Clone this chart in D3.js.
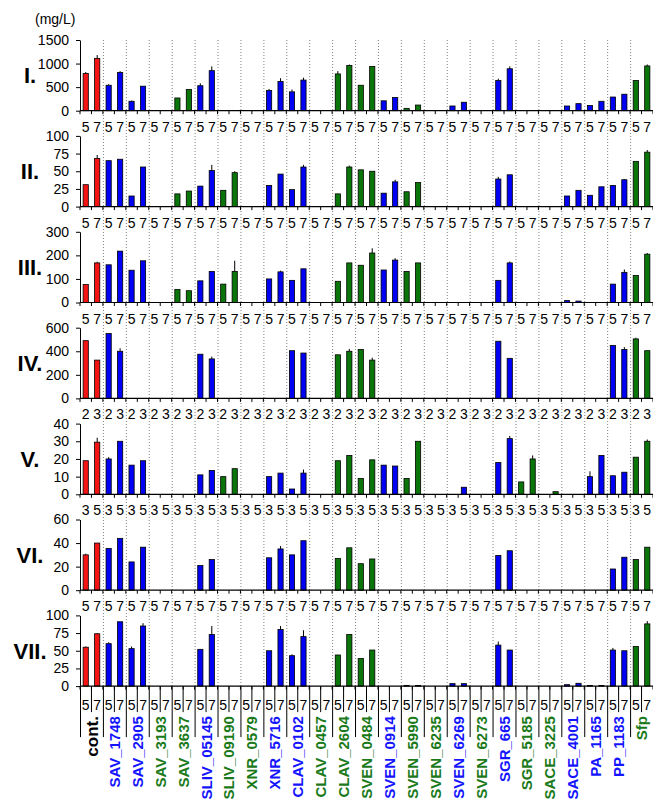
<!DOCTYPE html>
<html>
<head>
<meta charset="utf-8">
<script src="https://cdn.jsdelivr.net/npm/d3@7"></script>
<style>
  body { margin: 0; background: #fff; }
  svg { font-family: "Liberation Sans", Arial, sans-serif; }
</style>
</head>
<body>
<svg width="653" height="800"></svg>
<script>
const categories = ["cont.", "SAV_1748", "SAV_2905", "SAV_3193", "SAV_3637", "SLIV_05145", "SLIV_09190",
    "XNR_0579", "XNR_5716", "CLAV_0102", "CLAV_0457", "CLAV_2604", "SVEN_0484", "SVEN_0914",
    "SVEN_5990", "SVEN_6235", "SVEN_6269", "SVEN_6273", "SGR_665", "SGR_5185", "SACE_3225",
    "SACE_4001", "PA_1165", "PP_1183", "Sfp"]
// c = control, b = blue group, g = green group
const groups = ["c", "b", "b", "g", "g", "b", "g", "g", "b", "b", "g", "g", "g", "b",
    "g", "g", "b", "g", "b", "g", "g", "b", "b", "b", "g"]

const panelNames = ["I.", "II.", "III.", "IV.", "V.", "VI.", "VII."]
const panelTicks = [
    [0, 500, 1000, 1500],
    [0, 25, 50, 75, 100],
    [0, 100, 200, 300],
    [0, 200, 400, 600],
    [0, 10, 20, 30, 40],
    [0, 20, 40, 60],
    [0, 25, 50, 75, 100]
]
const panelDays = [[5, 7], [5, 7], [5, 7], [2, 3], [3, 5], [5, 7], [5, 7]]

const valuesI = [[790, 1110], [540, 810], [200, 520], null, [270, 450], [530, 850], null,
    null, [430, 620], [400, 650], null, [780, 960], [540, 940], [210, 280],
    [50, 120], null, [100, 180], null, [640, 890], null, null,
    [100, 150], [110, 200], [290, 350], [640, 950]]
const errorsI = [[30, 70], [20, 30], [15, 0], null, null, [50, 90], null,
    null, [30, 70], [50, 50], null, [60, 20], [0, 0], null,
    null, null, null, null, [40, 50], null, null,
    null, null, null, [0, 30]]

const valuesII = [[31, 68], [65, 67], [15, 56], null, [18, 22], [29, 51], [23, 48],
    null, [30, 46], [24, 56], null, [18, 56], [52, 50], [19, 35],
    [21, 34], null, null, null, [39, 45], null, null,
    [15, 23], [16, 28], [30, 38], [64, 77]]
const errorsII = [[0, 5], null, null, null, null, [0, 8], [0, 2],
    null, null, [0, 3], null, [0, 2], null, [0, 3],
    null, null, null, null, [3, 0], null, null,
    null, null, [0, 1], [0, 3]]

const valuesIII = [[76, 168], [160, 218], [137, 177], null, [55, 50], [92, 132], [78, 132],
    null, [100, 130], [94, 143], null, [90, 168], [158, 210], [138, 180],
    [132, 168], null, null, null, [94, 168], null, null,
    [8, 6], null, [78, 128], [115, 205]]
const errorsIII = [[0, 5], null, null, null, null, null, [0, 45],
    null, [0, 5], null, null, null, [0, 20], [0, 8],
    null, null, null, null, [0, 6], null, null,
    null, null, [0, 12], [0, 5]]

const valuesIV = [[490, 325], [550, 400], null, null, null, [375, 335], null,
    null, null, [405, 385], null, [370, 400], [415, 325], null,
    null, null, null, null, [485, 340], null, null,
    null, null, [450, 415], [505, 405]]
const errorsIV = [null, [0, 25], null, null, null, [0, 20], null,
    null, null, null, null, [0, 20], [0, 20], null,
    null, null, null, null, null, null, null,
    null, null, [0, 20], [10, 0]]

const valuesV = [[19, 29.5], [20, 30], [16.5, 19], null, null, [11, 13.5], [10, 14.5],
    null, [10, 12], [3, 12], null, [19, 22], [9, 19.5], [16.5, 16],
    [9, 30], null, [null, 4], null, [18, 31.5], [7, 20], [null, 1.5],
    null, [10, 22], [10.5, 12.5], [21, 30]]
const errorsV = [[0, 2.5], [1, 0], null, null, null, null, null,
    null, null, [0, 2], null, null, null, null,
    null, null, null, null, [0, 1.5], [0, 2], null,
    null, [3, 0], null, [0, 1]]

const valuesVI = [[30, 40], [35.5, 44], [24, 36.5], null, null, [21, 26], null,
    null, [27.5, 35], [30, 42], null, [27, 36], [22.5, 26.5], null,
    null, null, null, null, [29.5, 33.5], null, null,
    null, null, [18, 28], [26, 36.5]]
const errorsVI = [[1, 0], null, null, null, null, null, null,
    null, [0, 2.5], null, null, null, null, null,
    null, null, null, null, null, null, null,
    null, null, null, null]

const valuesVII = [[55, 74], [60, 91], [53, 85], null, null, [52, 73], null,
    null, [50, 80], [43, 70], null, [44, 73], [39, 51], null,
    [1, 1], null, [3.5, 3.5], null, [58, 51], null, null,
    [2, 4], [0.8, 0.8], [51, 50], [56, 88]]
const errorsVII = [[1, 1], [2, 0], [3, 4], null, null, [0, 12], null,
    null, [0, 5], [2, 9], null, null, null, null,
    null, null, null, null, [5, 0], null, null,
    null, null, [3, 0], [0, 4]]

const panelValues = [valuesI, valuesII, valuesIII, valuesIV, valuesV, valuesVI, valuesVII]
const panelErrors = [errorsI, errorsII, errorsIII, errorsIV, errorsV, errorsVI, errorsVII]

const barFill = { c: "#f41414", b: "#0000f4", g: "#0a760a" }
const textFill = { c: "#000", b: "#1414ff", g: "#1a7a1a" }

const svg = d3.select("svg")
const left = 80, right = 653
const panelTop = 40, panelStep = 95.9, panelH = 70.7

const x = d3.scaleBand().domain(categories).range([left, right])
const slot = d3.scaleBand().domain([0, 1]).range([0, x.bandwidth()])
const barW = 5.2
const slotCenter = (i, j) => x(categories[i]) + slot(j) + slot.bandwidth() / 2

const lastZero = panelTop + 6 * panelStep + panelH

// dotted separators through all panels
svg.append("g")
    .selectAll("line")
    .data(categories.slice(1))
    .enter().append("line")
    .attr("x1", d => x(d) + 0.5).attr("x2", d => x(d) + 0.5)
    .attr("y1", panelTop).attr("y2", lastZero)
    .attr("stroke", "#808080")
    .attr("stroke-width", 1)
    .attr("stroke-dasharray", "1,2")

svg.append("text")
    .attr("x", 35).attr("y", 24)
    .attr("font-size", 14)
    .text("(mg/L)")

panelNames.forEach((name, p) => {
    const top = panelTop + p * panelStep
    const zero = top + panelH
    const ticks = panelTicks[p]
    const y = d3.scaleLinear().domain([0, d3.max(ticks)]).range([zero, top])
    const g = svg.append("g")

    const bars = []
    panelValues[p].forEach((pair, i) => {
        if (!pair) return
        pair.forEach((v, j) => {
            if (v == null) return
            const e = panelErrors[p][i] ? panelErrors[p][i][j] : 0
            bars.push({ i, j, v, e, grp: groups[i] })
        })
    })

    g.selectAll("rect")
        .data(bars)
        .enter().append("rect")
        .attr("x", d => slotCenter(d.i, d.j) - barW / 2)
        .attr("y", d => y(d.v))
        .attr("width", barW)
        .attr("height", d => zero - y(d.v))
        .attr("fill", d => barFill[d.grp])
        .attr("stroke", "#000")
        .attr("stroke-width", 0.8)

    g.selectAll("line.err")
        .data(bars.filter(d => d.e > 0))
        .enter().append("line")
        .attr("class", "err")
        .attr("x1", d => slotCenter(d.i, d.j)).attr("x2", d => slotCenter(d.i, d.j))
        .attr("y1", d => y(d.v)).attr("y2", d => y(d.v + d.e))
        .attr("stroke", "#000")
        .attr("stroke-width", 1)

    // y axis
    const yAxis = g.append("g")
        .attr("transform", `translate(${left},0)`)
        .call(d3.axisLeft(y).tickValues(ticks).tickFormat(d3.format("d"))
            .tickSize(4).tickSizeOuter(0).tickPadding(7))
    yAxis.selectAll("text").attr("font-size", 14).attr("fill", "#000")
        .attr("font-family", "Liberation Sans, Arial, sans-serif")
    yAxis.selectAll("line, path").attr("stroke", "#000")

    // x axis with a tick at every slot edge
    g.append("line")
        .attr("x1", left).attr("x2", right)
        .attr("y1", zero).attr("y2", zero)
        .attr("stroke", "#000").attr("stroke-width", 1.2)
    g.selectAll("line.xt")
        .data(d3.range(categories.length * 2 + 1))
        .enter().append("line")
        .attr("class", "xt")
        .attr("x1", k => left + k * slot.bandwidth()).attr("x2", k => left + k * slot.bandwidth())
        .attr("y1", zero).attr("y2", zero + 3.5)
        .attr("stroke", "#000")

    // day labels under each bar slot
    const days = []
    categories.forEach((c, i) => [0, 1].forEach(j => days.push({ i, j })))
    g.selectAll("text.day")
        .data(days)
        .enter().append("text")
        .attr("class", "day")
        .attr("x", d => slotCenter(d.i, d.j))
        .attr("y", zero + (p === 6 ? 24 : 21))
        .attr("text-anchor", "middle")
        .attr("font-size", 14)
        .text(d => panelDays[p][d.j])

    g.append("text")
        .attr("x", 30).attr("y", (top + zero) / 2 + 8)
        .attr("text-anchor", "middle")
        .attr("font-size", 22)
        .attr("font-weight", "bold")
        .text(name)
})

// table lines and category names under the last panel
const bottom = svg.append("g")
bottom.selectAll("line.edge")
    .data(categories)
    .enter().append("line")
    .attr("x1", d => x(d) + 0.5).attr("x2", d => x(d) + 0.5)
    .attr("y1", lastZero).attr("y2", lastZero + 51)
    .attr("stroke", "#000")
bottom.selectAll("line.mid")
    .data(categories)
    .enter().append("line")
    .attr("x1", d => x(d) + slot.bandwidth()).attr("x2", d => x(d) + slot.bandwidth())
    .attr("y1", lastZero).attr("y2", lastZero + 26)
    .attr("stroke", "#000")

bottom.selectAll("text.cat")
    .data(categories)
    .enter().append("text")
    .attr("class", "cat")
    .attr("transform", (d, i) => `translate(${x(d) + x.bandwidth() / 2 + (i === 0 ? 6.5 : 5.5)},${lastZero + 30}) rotate(-90)`)
    .attr("text-anchor", "end")
    .attr("font-weight", "bold")
    .attr("font-size", (d, i) => i === 0 ? 17 : 15)
    .attr("fill", (d, i) => textFill[groups[i]])
    .text(d => d)
</script>
</body>
</html>
